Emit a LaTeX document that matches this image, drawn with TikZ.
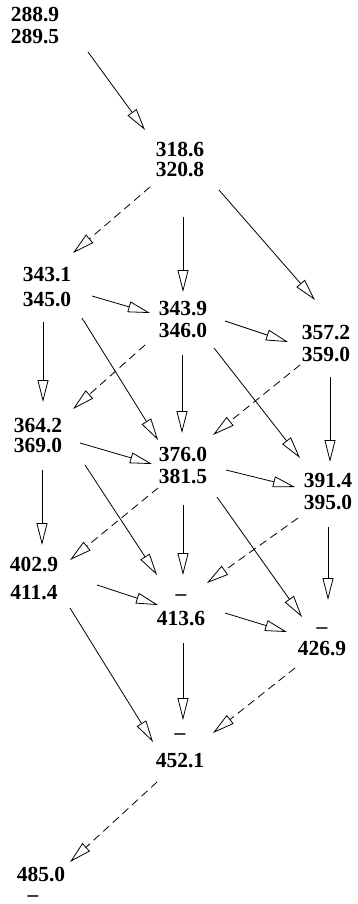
\documentclass[tikz,border=0pt]{standalone}
\usepackage{fontspec}
\setmainfont{Liberation Serif}
\usetikzlibrary{arrows.meta,calc}

\newcommand{\valfont}{\fontsize{21.5}{22}\selectfont\bfseries}

\tikzset{
  val/.style={font=\valfont, align=center, inner sep=0pt},
  flow/.style={line width=0.8pt, -{Triangle[open,length=22pt,width=11pt]}},
  alt/.style={flow, dash pattern=on 8pt off 5pt}
}

\begin{document}
\begin{tikzpicture}[x=1pt,y=-1pt]
\useasboundingbox (0,0) rectangle (357,904);
% values
\node[val] (a) at (35,26) {288.9\\289.5};
\node[val] (b) at (180,160) {318.6\\[-2pt]320.8};
\node[val] (c) at (47,287) {343.1\\[3pt]345.0};
\node[val] (d) at (183,320) {343.9\\346.0};
\node[val] (e) at (326,344) {357.2\\359.0};
\node[val] (f) at (38,436) {364.2\\[-2pt]369.0};
\node[val] (g) at (183,465) {376.0\\381.5};
\node[val] (h) at (328,492) {391.4\\395.0};
\node[val] (i) at (34,578) {402.9\\[6pt]411.4};
\node[val] (j) at (181,610) {--\\[3pt]413.6};
\node[val] (k) at (322,642) {--\\426.9};
\node[val] (l) at (180,751) {--\\[6pt]452.1};
\node[val] (m) at (41,884) {485.0\\[-2pt]\hspace*{-16pt}--};
% first row
\draw[flow] ($(a)+(53,26)$) -- ($(b)+(-35,-30)$);
\draw[alt]  ($(b)+(-30,27)$) -- ($(c)+(26,-34)$);
\draw[flow] ($(b)+(3,57)$) -- ($(d)+(0,-28)$);
\draw[flow] ($(b)+(39,30)$) -- ($(e)+(-11,-44)$);
% second row
\draw[flow] ($(c)+(45,9)$) -- ($(d)+(-33,-7)$);
\draw[flow] ($(d)+(42,1)$) -- ($(e)+(-38,-2)$);
\draw[flow] ($(c)+(-4,35)$) -- ($(f)+(5,-34)$);
\draw[flow] ($(c)+(35,31)$) -- ($(g)+(-25,-25)$);
\draw[alt]  ($(d)+(-38,25)$) -- ($(f)+(35,-27)$);
\draw[flow] ($(d)+(-1,35)$) -- ($(g)+(-1,-32)$);
\draw[flow] ($(d)+(31,28)$) -- ($(h)+(-28,-34)$);
\draw[alt]  ($(e)+(-26,21)$) -- ($(g)+(30,-30)$);
\draw[flow] ($(e)+(4,33)$) -- ($(h)+(2,-30)$);
% third row
\draw[flow] ($(f)+(42,7)$) -- ($(g)+(-31,-1)$);
\draw[flow] ($(g)+(43,5)$) -- ($(h)+(-33,-5)$);
\draw[flow] ($(f)+(4,34)$) -- ($(i)+(8,-33)$);
\draw[flow] ($(f)+(47,29)$) -- ($(j)+(-24,-35)$);
\draw[alt]  ($(g)+(-25,23)$) -- ($(i)+(36,-18)$);
\draw[flow] ($(g)+(0,40)$) -- ($(j)+(2,-35)$);
\draw[flow] ($(g)+(34,32)$) -- ($(k)+(-20,-25)$);
\draw[alt]  ($(h)+(-30,26)$) -- ($(j)+(26,-27)$);
\draw[flow] ($(h)+(0,35)$) -- ($(k)+(6,-42)$);
% fourth row
\draw[flow] ($(i)+(63,7)$) -- ($(j)+(-23,-5)$);
\draw[flow] ($(j)+(44,3)$) -- ($(k)+(-35,-10)$);
\draw[flow] ($(i)+(36,30)$) -- ($(l)+(-27,-9)$);
\draw[flow] ($(j)+(2,33)$) -- ($(l)+(3,-31)$);
\draw[alt]  ($(k)+(-27,26)$) -- ($(l)+(33,-18)$);
\draw[alt]  ($(l)+(-23,31)$) -- ($(m)+(29,-22)$);
\end{tikzpicture}
\end{document}
